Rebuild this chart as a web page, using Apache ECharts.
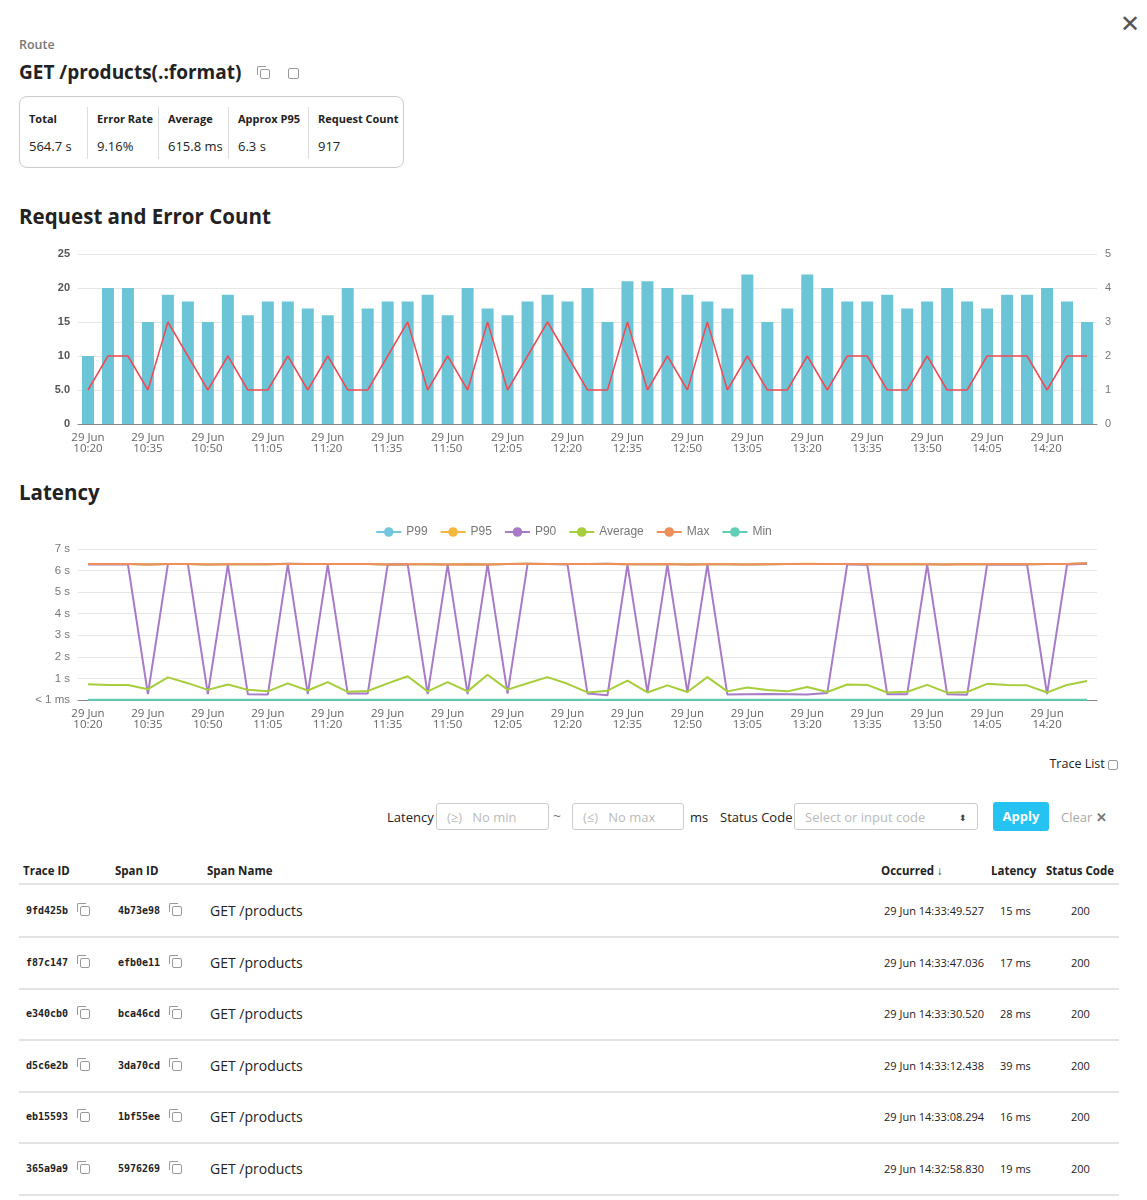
<!DOCTYPE html>
<html>
<head>
<meta charset="utf-8">
<script src="https://cdn.jsdelivr.net/npm/echarts@6/dist/echarts.min.js"></script>
<style>
  body { margin:0; width:1147px; height:1200px; font-family:"Open Sans", sans-serif; color:#222; background:#fff; position:relative; overflow:hidden; }
  .abs { position:absolute; }
  .copy { display:inline-block; width:8px; height:8px; border:1.2px solid #999; border-radius:2px; position:relative; vertical-align:middle; }
  .copy:before { content:""; position:absolute; left:-4px; top:-4px; width:8px; height:8px; border-left:1.2px solid #999; border-top:1.2px solid #999; border-radius:2px 0 0 0; }
  .ext { display:inline-block; width:9px; height:9px; border:1.3px solid #999; border-radius:2px; vertical-align:middle; position:relative; }
  .stats { left:19px; top:96px; width:383px; height:70px; border:1px solid #ccc; border-radius:8px; }
  .col { position:absolute; top:10px; height:52px; font-size:13px; padding-left:9px; }
  .col b { display:block; font-size:11px; margin-top:4px; }
  .col span { display:block; margin-top:11px; }
  .sep { border-left:1px solid #ddd; }
  h2 { margin:0; font-size:20.5px; font-weight:700; }
  .inp { position:absolute; top:803px; height:27px; border:1px solid #ccc; border-radius:3px; font-size:13px; color:#bbb; line-height:27px; padding-left:10px; box-sizing:border-box; }
  .row { position:absolute; left:19px; width:1100px; height:51px; border-bottom:2px solid #e3e3e3; font-size:11px; }
  .row div { position:absolute; top:0; line-height:51px; }
  .mono { font-family:"DejaVu Sans Mono", monospace; font-weight:bold; font-size:10px; }
  .th { position:absolute; top:863px; font-size:11.5px; font-weight:700; }
</style>
</head>
<body>
<div class="abs" style="left:1120px;top:6px;font-size:24px;color:#555;">✕</div>
<div class="abs" style="left:19px;top:36px;font-size:12.5px;font-weight:600;color:#777;">Route</div>
<div class="abs" style="left:19px;top:59px;font-size:19px;font-weight:700;">GET /products(.:format)
  <span class="copy" style="margin-left:14px;"></span><span class="ext" style="margin-left:18px;"></span>
</div>
<div class="abs stats">
  <div class="col" style="left:0;width:58px;"><b>Total</b><span>564.7 s</span></div>
  <div class="col sep" style="left:67px;width:60px;"><b>Error Rate</b><span>9.16%</span></div>
  <div class="col sep" style="left:138px;width:60px;"><b>Average</b><span>615.8 ms</span></div>
  <div class="col sep" style="left:208px;width:70px;"><b>Approx P95</b><span>6.3 s</span></div>
  <div class="col sep" style="left:288px;width:90px;"><b>Request Count</b><span>917</span></div>
</div>
<h2 class="abs" style="left:19px;top:202px;">Request and Error Count</h2>
<div id="c1" class="abs" style="left:0;top:240px;width:1147px;height:225px;"></div>
<h2 class="abs" style="left:19px;top:478px;">Latency</h2>
<div id="c2" class="abs" style="left:0;top:515px;width:1147px;height:225px;"></div>

<div class="abs" style="right:29px;top:755px;font-size:12.5px;">Trace List <span class="ext" style="width:8px;height:8px;"></span></div>
<div class="abs" style="left:387px;top:808px;font-size:13px;">Latency</div>
<div class="inp" style="left:436px;width:113px;">(≥)&nbsp;&nbsp; No min</div>
<div class="abs" style="left:553px;top:806px;font-size:14px;color:#777;">~</div>
<div class="inp" style="left:572px;width:112px;">(≤)&nbsp;&nbsp; No max</div>
<div class="abs" style="left:690px;top:808px;font-size:13px;">ms</div>
<div class="abs" style="left:720px;top:808px;font-size:13px;">Status Code</div>
<div class="inp" style="left:794px;width:184px;">Select or input code<span style="position:absolute;right:10px;color:#444;font-size:9px;">⬍</span></div>
<div class="abs" style="left:993px;top:802px;width:56px;height:29px;background:#25c2f2;border-radius:3px;color:#fff;font-weight:700;font-size:13px;text-align:center;line-height:29px;">Apply</div>
<div class="abs" style="left:1061px;top:808px;font-size:13px;color:#aaa;">Clear <b style="color:#777;">✕</b></div>

<div class="th" style="left:23px;">Trace ID</div>
<div class="th" style="left:115px;">Span ID</div>
<div class="th" style="left:207px;">Span Name</div>
<div class="th" style="left:881px;">Occurred ↓</div>
<div class="th" style="left:991px;">Latency</div>
<div class="th" style="left:1046px;">Status Code</div>
<div class="abs" style="left:19px;top:883px;width:1100px;border-top:2px solid #e3e3e3;"></div>
<div id="rows"></div>

<script>
// request / error counts, one point every 5 min from 10:20 to 14:30
var times = ['10:20','10:25','10:30','10:35','10:40','10:45','10:50','10:55','11:00','11:05','11:10','11:15','11:20','11:25','11:30','11:35','11:40','11:45','11:50','11:55','12:00','12:05','12:10','12:15','12:20','12:25','12:30','12:35','12:40','12:45','12:50','12:55','13:00','13:05','13:10','13:15','13:20','13:25','13:30','13:35','13:40','13:45','13:50','13:55','14:00','14:05','14:10','14:15','14:20','14:25','14:30'];
var requests = [10,20,20,15,19,18,15,19,16,18,18,17,16,20,17,18,18,19,16,20,17,16,18,19,18,20,15,21,21,20,19,18,17,22,15,17,22,20,18,18,19,17,18,20,18,17,19,19,20,18,15];
var errors = [1,2,2,1,3,2,1,2,1,1,2,1,2,1,1,2,3,1,2,1,3,1,2,3,2,1,1,3,1,2,1,3,1,2,1,1,2,1,2,2,1,1,2,1,1,2,2,2,1,2,2];

// latency in seconds
var maxLat = [6.3,6.31,6.3,6.28,6.3,6.3,6.28,6.29,6.29,6.29,6.32,6.31,6.3,6.31,6.3,6.28,6.29,6.29,6.28,6.29,6.28,6.31,6.32,6.3,6.3,6.3,6.32,6.29,6.29,6.3,6.28,6.29,6.29,6.28,6.29,6.3,6.31,6.3,6.31,6.29,6.29,6.29,6.29,6.28,6.3,6.29,6.3,6.29,6.3,6.3,6.34];
var p99 = maxLat;
var p95 = [6.3,6.3,6.3,6.28,6.3,6.3,6.28,6.29,6.29,6.29,6.31,6.31,6.3,6.31,6.3,6.28,6.29,6.29,6.28,6.29,6.28,6.31,6.32,6.3,6.3,6.3,6.31,6.29,6.29,6.3,6.28,6.29,6.29,6.28,6.29,6.3,6.32,6.3,6.31,6.29,6.29,6.29,6.29,6.28,6.3,6.29,6.3,6.29,6.3,6.3,6.33];
var p90 = [6.28,6.28,6.28,0.27,6.3,6.3,0.27,6.28,0.27,0.25,6.3,0.27,6.28,0.3,0.3,6.28,6.29,0.27,6.28,0.27,6.3,0.3,6.3,6.3,6.28,0.3,0.22,6.28,0.35,6.28,0.35,6.28,0.25,0.27,0.28,0.27,0.26,0.32,6.29,6.27,0.27,0.27,6.28,0.27,0.24,6.28,6.29,6.28,0.27,6.28,6.32];
var average = [0.73,0.69,0.7,0.5,1.05,0.78,0.47,0.72,0.47,0.4,0.77,0.44,0.83,0.38,0.42,0.77,1.1,0.4,0.83,0.4,1.17,0.48,0.78,1.06,0.75,0.35,0.43,0.9,0.35,0.68,0.37,1.06,0.4,0.58,0.46,0.4,0.6,0.37,0.72,0.7,0.35,0.38,0.7,0.34,0.37,0.75,0.69,0.68,0.35,0.7,0.88];
var minLat = [0.01,0.01,0.01,0.01,0.01,0.01,0.01,0.01,0.01,0.01,0.01,0.01,0.01,0.01,0.01,0.01,0.01,0.01,0.01,0.01,0.01,0.01,0.01,0.01,0.01,0.01,0.01,0.01,0.01,0.01,0.01,0.01,0.01,0.01,0.01,0.01,0.01,0.01,0.01,0.01,0.01,0.01,0.01,0.01,0.01,0.01,0.01,0.01,0.01,0.01,0.01];

var traceIds = ['9fd425b','f87c147','e340cb0','d5c6e2b','eb15593','365a9a9'];
var spanIds = ['4b73e98','efb0e11','bca46cd','3da70cd','1bf55ee','5976269'];
var occurred = ['29 Jun 14:33:49.527','29 Jun 14:33:47.036','29 Jun 14:33:30.520','29 Jun 14:33:12.438','29 Jun 14:33:08.294','29 Jun 14:32:58.830'];
var latencies = ['15 ms','17 ms','28 ms','39 ms','16 ms','19 ms'];
var codes = ['200','200','200','200','200','200'];

var html = '';
traceIds.forEach(function (id, i) {
  html += '<div class="row" style="top:' + (885 + i * 51.5) + 'px;">' +
    '<div class="mono" style="left:7px;">' + id + ' <span class="copy" style="margin-left:6px;"></span></div>' +
    '<div class="mono" style="left:99px;">' + spanIds[i] + ' <span class="copy" style="margin-left:6px;"></span></div>' +
    '<div style="left:191px;font-size:14px;">GET /products</div>' +
    '<div style="left:865px;">' + occurred[i] + '</div>' +
    '<div style="left:981px;">' + latencies[i] + '</div>' +
    '<div style="left:1052px;">' + codes[i] + '</div></div>';
});
document.getElementById('rows').innerHTML = html;

var labels = times.map(function (t) { return '29 Jun\n' + t; });
var xAxis = {
  type: 'category', data: labels,
  axisLine: { lineStyle: { color: '#888' } },
  axisTick: { interval: 2, lineStyle: { color: '#888' } },
  axisLabel: { interval: 2, color: '#666', fontSize: 11.5, lineHeight: 11, fontFamily: 'Open Sans' }
};

var chart1 = echarts.init(document.getElementById('c1'));
chart1.setOption({
  animation: false,
  grid: { left: 78, right: 50, top: 14, bottom: 41 },
  xAxis: xAxis,
  yAxis: [
    { type: 'value', min: 0, max: 25, interval: 5,
      axisLabel: { color: '#555', fontWeight: 'bold', fontSize: 11, formatter: function (v) { return v === 5 ? '5.0' : v; } },
      splitLine: { lineStyle: { color: '#e6e6e6' } } },
    { type: 'value', min: 0, max: 5, interval: 1,
      axisLabel: { color: '#777', fontSize: 11 }, splitLine: { show: false } }
  ],
  series: [
    { name: 'Requests', type: 'bar', data: requests, barWidth: 12, itemStyle: { color: '#6cc5d6' } },
    { name: 'Errors', type: 'line', yAxisIndex: 1, data: errors, symbol: 'none',
      lineStyle: { color: '#ee4a55', width: 1.5 } }
  ]
});

var chart2 = echarts.init(document.getElementById('c2'));
function line(name, data, color) {
  return { name: name, type: 'line', data: data, symbol: 'circle', showSymbol: false,
    itemStyle: { color: color }, lineStyle: { color: color, width: 2 } };
}
chart2.setOption({
  animation: false,
  legend: { top: 6, itemWidth: 25, itemHeight: 12, itemGap: 12, textStyle: { color: '#777', fontSize: 12 },
    data: ['P99','P95','P90','Average','Max','Min'] },
  grid: { left: 78, right: 50, top: 34, bottom: 40 },
  xAxis: xAxis,
  yAxis: { type: 'value', min: 0, max: 7, interval: 1,
    axisLabel: { color: '#777', fontSize: 11.5, formatter: function (v) { return v === 0 ? '< 1 ms' : v + ' s'; } },
    splitLine: { lineStyle: { color: '#e6e6e6' } } },
  series: [
    line('P99', p99, '#73c6de'),
    line('P95', p95, '#f2b73c'),
    line('P90', p90, '#a77bc8'),
    line('Average', average, '#a6cd3a'),
    line('Max', maxLat, '#ef8f5b'),
    line('Min', minLat, '#5fcfb5')
  ]
});
</script>
</body>
</html>
